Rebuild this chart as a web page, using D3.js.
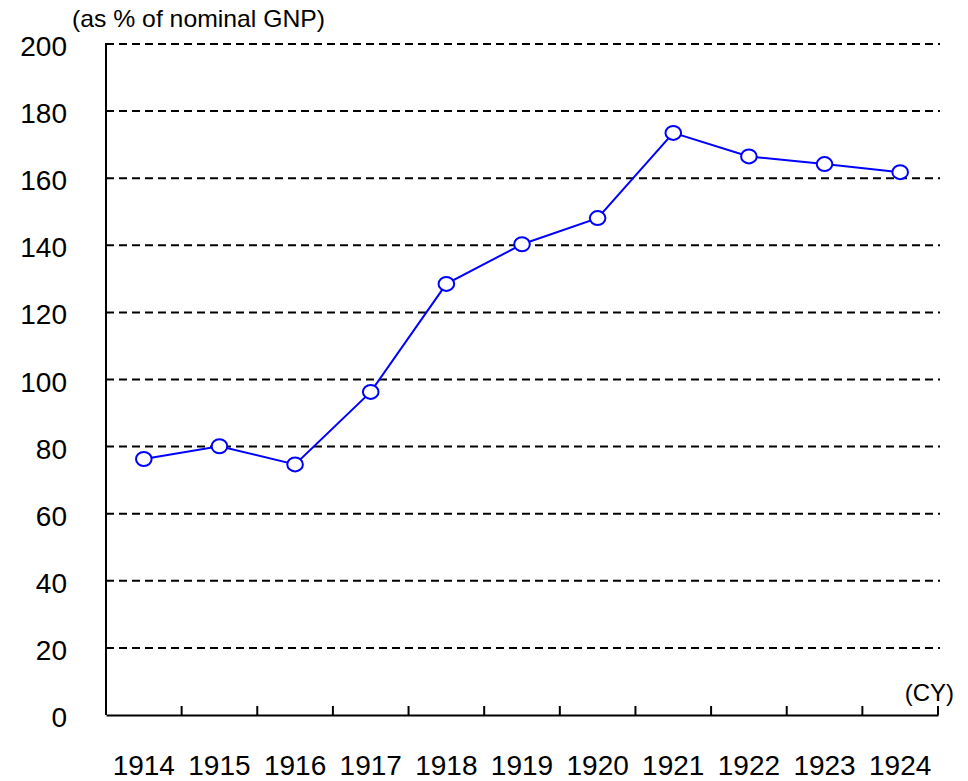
<!DOCTYPE html>
<html>
<head>
<meta charset="utf-8">
<script src="https://cdn.jsdelivr.net/npm/d3@7"></script>
<style>
  body { margin: 0; background: #fff; }
  text { font-family: "Liberation Sans", Arial, sans-serif; fill: #000; }
</style>
</head>
<body>
<div id="chart"></div>
<script>
const years = ["1914", "1915", "1916", "1917", "1918", "1919", "1920", "1921", "1922", "1923", "1924"];
const values = [76.3, 80.1, 74.7, 96.3, 128.5, 140.3, 148.1, 173.5, 166.5, 164.2, 161.8];
const yTicks = [0, 20, 40, 60, 80, 100, 120, 140, 160, 180, 200];

const w = 968;
const h = 781;
const padLeft = 106, padRight = 938, padTop = 44, padBottom = 715;

const svg = d3.select("#chart")
    .append("svg")
    .attr("width", w)
    .attr("height", h);

const x = d3.scaleBand()
    .domain(years)
    .range([padLeft, padRight]);

const y = d3.scaleLinear()
    .domain([0, 200])
    .range([padBottom, padTop]);

// dashed grid
svg.append("g")
    .selectAll("line")
    .data(yTicks.filter(d => d > 0))
    .enter()
    .append("line")
    .attr("x1", padLeft)
    .attr("x2", 940)
    .attr("y1", d => y(d))
    .attr("y2", d => y(d))
    .attr("stroke", "#000")
    .attr("stroke-width", 2)
    .attr("stroke-dasharray", "8,5");

// y labels
svg.append("g")
    .selectAll("text")
    .data(yTicks)
    .enter()
    .append("text")
    .attr("x", 67)
    .attr("y", d => y(d) + 12)
    .attr("text-anchor", "end")
    .style("font-size", "28px")
    .text(d => d);

// y axis line
svg.append("line")
    .attr("x1", padLeft).attr("x2", padLeft)
    .attr("y1", padTop - 1).attr("y2", padBottom)
    .attr("stroke", "#000")
    .attr("stroke-width", 2);

// x axis
const xAxis = d3.axisBottom(x).tickSize(0).tickFormat("");
svg.append("g")
    .attr("transform", `translate(0, ${padBottom})`)
    .call(xAxis)
    .call(g => g.select(".domain").attr("stroke-width", 2));

svg.append("g")
    .selectAll("line")
    .data(years)
    .enter()
    .append("line")
    .attr("x1", d => x(d) + x.bandwidth())
    .attr("x2", d => x(d) + x.bandwidth())
    .attr("y1", padBottom - 9)
    .attr("y2", padBottom)
    .attr("stroke", "#000")
    .attr("stroke-width", 2);

svg.append("g")
    .selectAll("text")
    .data(years)
    .enter()
    .append("text")
    .attr("x", d => x(d) + x.bandwidth() / 2)
    .attr("y", 775)
    .attr("text-anchor", "middle")
    .style("font-size", "28px")
    .text(d => d);

// line + markers
const line = d3.line()
    .x((d, i) => x(years[i]) + x.bandwidth() / 2)
    .y(d => y(d));

svg.append("path")
    .datum(values)
    .attr("d", line)
    .attr("fill", "none")
    .attr("stroke", "#0000ff")
    .attr("stroke-width", 2);

svg.append("g")
    .selectAll("ellipse")
    .data(values)
    .enter()
    .append("ellipse")
    .attr("cx", (d, i) => x(years[i]) + x.bandwidth() / 2)
    .attr("cy", d => y(d))
    .attr("rx", 7.8)
    .attr("ry", 7)
    .attr("fill", "#fff")
    .attr("stroke", "#0000ff")
    .attr("stroke-width", 2);

// titles
svg.append("text")
    .attr("x", 72)
    .attr("y", 27)
    .attr("textLength", 253)
    .attr("lengthAdjust", "spacingAndGlyphs")
    .style("font-size", "24px")
    .text("(as % of nominal GNP)");

svg.append("text")
    .attr("x", 954)
    .attr("y", 701)
    .attr("text-anchor", "end")
    .style("font-size", "24px")
    .text("(CY)");
</script>
</body>
</html>
